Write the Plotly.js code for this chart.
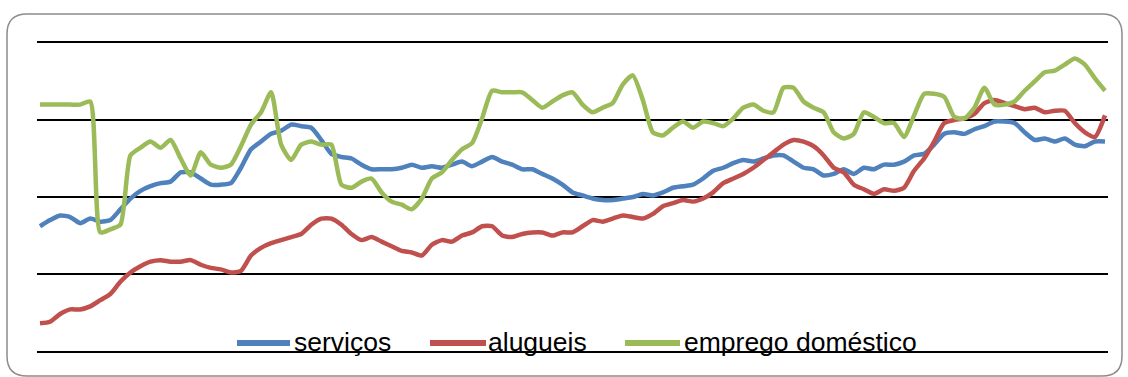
<!DOCTYPE html>
<html>
<head>
<meta charset="utf-8">
<script src="https://cdn.plot.ly/plotly-3.0.1.min.js"></script>
<style>
  html, body { margin: 0; padding: 0; background: #fff; }
  #chart { width: 1128px; height: 377px; }
</style>
</head>
<body>
<div id="chart"></div>
<script>
// Series names (legend labels)
const seriesNames = ["serviços", "alugueis", "emprego doméstico"];

// serviços
const servicos = [
  8.1, 8.5, 8.8, 8.7, 8.3, 8.6, 8.4, 8.5, 9.2, 9.9,
  10.4, 10.7, 10.9, 11.0, 11.6, 11.6, 11.2, 10.8, 10.8, 10.9,
  11.9, 13.1, 13.6, 14.1, 14.3, 14.7, 14.6, 14.5, 13.7, 12.8,
  12.6, 12.5, 12.1, 11.8, 11.8, 11.8, 11.9, 12.1, 11.9, 12.0,
  11.9, 12.1, 12.3, 12.0, 12.3, 12.6, 12.3, 12.1, 11.8, 11.8,
  11.5, 11.2, 10.8, 10.3, 10.1, 9.9, 9.8, 9.8, 9.9, 10.0,
  10.2, 10.1, 10.3, 10.6, 10.7, 10.8, 11.2, 11.7, 11.9, 12.2,
  12.4, 12.3, 12.5, 12.7, 12.7, 12.3, 11.9, 11.8, 11.4, 11.5,
  11.8, 11.5, 11.9, 11.8, 12.1, 12.1, 12.3, 12.7, 12.8, 13.4,
  14.1, 14.2, 14.1, 14.4, 14.6, 14.9, 14.9, 14.8, 14.2, 13.7,
  13.8, 13.6, 13.8, 13.4, 13.3, 13.6, 13.6
];

// alugueis
const alugueis = [
  1.8, 1.9, 2.4, 2.7, 2.7, 2.9, 3.3, 3.7, 4.5, 5.1,
  5.5, 5.8, 5.9, 5.8, 5.8, 5.9, 5.6, 5.4, 5.3, 5.1,
  5.2, 6.2, 6.7, 7.0, 7.2, 7.4, 7.6, 8.2, 8.6, 8.6,
  8.2, 7.6, 7.2, 7.4, 7.1, 6.8, 6.5, 6.4, 6.2, 6.9,
  7.2, 7.1, 7.5, 7.7, 8.1, 8.1, 7.5, 7.4, 7.6, 7.7,
  7.7, 7.5, 7.7, 7.7, 8.1, 8.5, 8.4, 8.6, 8.8, 8.7,
  8.6, 8.9, 9.4, 9.6, 9.8, 9.7, 9.9, 10.3, 10.9, 11.2,
  11.5, 11.9, 12.4, 12.9, 13.4, 13.7, 13.6, 13.3, 12.7, 11.9,
  11.6, 10.8, 10.5, 10.2, 10.5, 10.4, 10.6, 11.7, 12.5, 13.6,
  14.8, 15.0, 15.1, 15.4, 16.1, 16.3, 16.1, 15.9, 15.7, 15.8,
  15.5, 15.6, 15.6, 14.8, 14.2, 13.9, 15.3
];

// emprego doméstico
const empregoDomestico = [
  16.0, 16.0, 16.0, 16.0, 16.0, 16.2, 7.7, 7.9, 8.2, 12.7,
  13.2, 13.6, 13.2, 13.7, 12.5, 11.4, 12.9, 12.1, 11.9, 12.1,
  13.3, 14.7, 15.5, 16.8, 13.4, 12.4, 13.4, 13.6, 13.4, 13.4,
  10.8, 10.6, 11.0, 11.2, 10.3, 9.7, 9.5, 9.2, 9.9, 11.2,
  11.6, 12.4, 13.1, 13.5, 15.1, 16.9, 16.8, 16.8, 16.8, 16.3,
  15.8, 16.2, 16.6, 16.8, 16.0, 15.5, 15.8, 16.1, 17.3, 17.9,
  16.3, 14.2, 14.0, 14.5, 14.9, 14.5, 14.9, 14.8, 14.6, 15.1,
  15.8, 16.0, 15.6, 15.5, 17.1, 17.1, 16.2, 15.8, 15.5, 14.2,
  13.8, 14.1, 15.5, 15.2, 14.8, 14.8, 13.9, 15.3, 16.7, 16.7,
  16.5, 15.2, 15.1, 15.8, 17.1, 16.0, 16.0, 16.2, 16.9, 17.5,
  18.1, 18.2, 18.6, 19.0, 18.6, 17.7, 16.9
];

const seriesColors = ["#4F81BD", "#C0504D", "#9BBB59"];
const allSeries = [servicos, alugueis, empregoDomestico];

const xIdx = servicos.map((_, i) => i);

const traces = allSeries.map((vals, k) => ({
  type: "scatter",
  mode: "lines",
  name: seriesNames[k],
  x: xIdx,
  y: vals,
  line: { color: seriesColors[k], width: 4.5, shape: "spline", smoothing: 0.6 },
  hoverinfo: "skip",
  showlegend: false
}));

// Layout geometry (pixels)
const W = 1128, H = 377;
const m = { l: 37, r: 20, t: 43, b: 26 };
const pw = W - m.l - m.r, ph = H - m.t - m.b;
const px2x = px => (px - m.l) / pw;
const py2y = py => (H - m.b - py) / ph;

// rounded frame path in paper coords
const fx0 = 7, fx1 = 1122, fy0 = 14, fy1 = 376, rad = 20;
const rX = rad / pw, rY = rad / ph;
const L = px2x(fx0), R = px2x(fx1), T = py2y(fy0), B = py2y(fy1);
const framePath =
  `M ${L + rX},${T} L ${R - rX},${T} Q ${R},${T} ${R},${T - rY} ` +
  `L ${R},${B + rY} Q ${R},${B} ${R - rX},${B} ` +
  `L ${L + rX},${B} Q ${L},${B} ${L},${B + rY} ` +
  `L ${L},${T - rY} Q ${L},${T} ${L + rX},${T} Z`;

// legend drawn as swatch lines + text annotations
const legendSwatchPx = [[237, 290], [430, 486], [625, 680]];
const legendTextPx = [293, 487, 683];
const legendLineY = 343, legendTextY = 342;

const shapes = [{
  type: "path",
  xref: "paper",
  yref: "paper",
  path: framePath,
  line: { color: "#8c8c8c", width: 1.5 },
  fillcolor: "rgba(0,0,0,0)",
  layer: "below"
}];
const annotations = [];
seriesNames.forEach((name, k) => {
  shapes.push({
    type: "line",
    xref: "paper", yref: "paper",
    x0: px2x(legendSwatchPx[k][0]), x1: px2x(legendSwatchPx[k][1]),
    y0: py2y(legendLineY), y1: py2y(legendLineY),
    line: { color: seriesColors[k], width: 6 },
    layer: "above"
  });
  annotations.push({
    xref: "paper", yref: "paper",
    x: px2x(legendTextPx[k]), y: py2y(legendTextY),
    xanchor: "left", yanchor: "middle",
    text: name,
    showarrow: false,
    borderpad: 0,
    font: { size: 26.5, color: "#000", family: "Liberation Sans, Arial, sans-serif" }
  });
});

const layout = {
  width: W,
  height: H,
  margin: m,
  paper_bgcolor: "#ffffff",
  plot_bgcolor: "rgba(0,0,0,0)",
  font: { family: "Liberation Sans, Arial, sans-serif", color: "#000" },
  showlegend: false,
  xaxis: {
    range: [-0.3, servicos.length - 1 + 0.3],
    showticklabels: false,
    ticks: "",
    showgrid: false,
    zeroline: false,
    showline: true,
    linecolor: "#000",
    linewidth: 2,
    mirror: true
  },
  yaxis: {
    range: [0, 20],
    dtick: 5,
    showticklabels: false,
    ticks: "",
    showgrid: true,
    gridcolor: "#000",
    gridwidth: 2,
    zeroline: false,
    showline: false
  },
  shapes: shapes,
  annotations: annotations
};

Plotly.newPlot("chart", traces, layout, { displayModeBar: false, staticPlot: true });
</script>
</body>
</html>
